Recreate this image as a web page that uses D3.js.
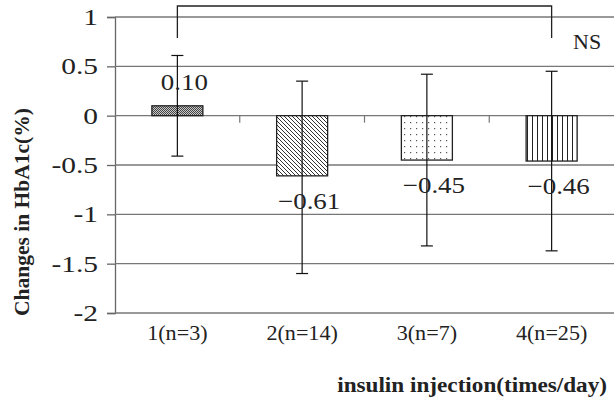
<!DOCTYPE html>
<html><head><meta charset="utf-8">
<script src="https://cdn.jsdelivr.net/npm/d3@7"></script>
<style>body{margin:0;background:#fff}svg{display:block}</style>
</head><body>
<svg id="c" width="614" height="410"></svg>
<script>
const categories = ["1(n=3)", "2(n=14)", "3(n=7)", "4(n=25)"];
const means = [0.10, -0.61, -0.45, -0.46];
const errUpper = [0.61, 0.35, 0.42, 0.45];
const errLower = [-0.41, -1.60, -1.32, -1.37];
const labels = ["0.10", "\u22120.61", "\u22120.45", "\u22120.46"];
const yTicks = [1, 0.5, 0, -0.5, -1, -1.5, -2];
const yTickLabels = ["1", "0.5", "0", "-0.5", "-1", "-1.5", "-2"];
const patterns = ["checker", "diag", "dots", "vert"];

const svg = d3.select("#c");
const serif = "'Liberation Serif','Times New Roman',serif";
const x = d3.scaleBand().domain(categories).range([115, 614]).padding(0);
const y = d3.scaleLinear().domain([-2, 1]).range([313, 17]);

function stext(parent, px, py, str, size, sx, anchor, bold, rot) {
  const g = parent.append("g").attr("transform", `translate(${px},${py})` + (rot ? ` rotate(${rot})` : "") + ` scale(${sx},1)`);
  g.append("text").attr("text-anchor", anchor).attr("font-family", serif)
    .attr("font-size", size).attr("font-weight", bold ? "bold" : "normal").attr("fill", "#222").text(str);
  return g;
}

// patterns
const defs = svg.append("defs");
let p = defs.append("pattern").attr("id","checker").attr("patternUnits","userSpaceOnUse").attr("width",2).attr("height",2);
p.append("rect").attr("width",2).attr("height",2).attr("fill","#c8c8c8");
p.append("rect").attr("width",1).attr("height",1).attr("fill","#444");
p.append("rect").attr("x",1).attr("y",1).attr("width",1).attr("height",1).attr("fill","#444");
p = defs.append("pattern").attr("id","diag").attr("patternUnits","userSpaceOnUse").attr("width",4).attr("height",4);
p.append("rect").attr("width",4).attr("height",4).attr("fill","#fff");
p.append("path").attr("d","M-1,-1 L5,5 M-1,3 L1,5 M3,-1 L5,1").attr("stroke","#333").attr("stroke-width",1);
p = defs.append("pattern").attr("id","dots").attr("patternUnits","userSpaceOnUse").attr("width",6).attr("height",6);
p.append("rect").attr("width",6).attr("height",6).attr("fill","#fff");
p.append("rect").attr("x",2).attr("y",2).attr("width",1.2).attr("height",1.2).attr("fill","#555");
p = defs.append("pattern").attr("id","vert").attr("patternUnits","userSpaceOnUse").attr("width",5).attr("height",5);
p.append("rect").attr("width",5).attr("height",5).attr("fill","#fff");
p.append("line").attr("x1",2.5).attr("x2",2.5).attr("y1",0).attr("y2",5).attr("stroke","#222").attr("stroke-width",1);

// y axis (line + ticks), labels stretched
const yAxis = d3.axisLeft(y).tickValues(yTicks).tickSize(8).tickFormat("");
const ga = svg.append("g").attr("transform","translate(115,0)").call(yAxis);
ga.select(".domain").attr("stroke","#666").attr("stroke-width",1.3);
ga.selectAll(".tick line").attr("stroke","#666").attr("stroke-width",1.3);
const gl = svg.append("g");
yTicks.forEach((d,i)=> stext(gl, 98, y(d)+8, yTickLabels[i], 23, 1.28, "end", false));

// gridlines
svg.append("g").selectAll("line").data(yTicks).join("line")
  .attr("x1",115).attr("x2",614).attr("y1",d=>y(d)).attr("y2",d=>y(d))
  .attr("stroke","#777").attr("stroke-width",1.3);

// category ticks on zero line
svg.append("g").selectAll("line").data(categories.slice(1)).join("line")
  .attr("x1",d=>x(d)).attr("x2",d=>x(d)).attr("y1",y(0)).attr("y2",y(0)+7)
  .attr("stroke","#777").attr("stroke-width",1.2);

// category labels
const gc = svg.append("g");
categories.forEach(c => stext(gc, x(c)+x.bandwidth()/2, 340, c, 20.5, 1.08, "middle", false));

// bars
const bw = 51;
svg.append("g").selectAll("rect").data(means).join("rect")
  .attr("x",(d,i)=>x(categories[i])+x.bandwidth()/2-bw/2)
  .attr("width",bw)
  .attr("y",d=>y(Math.max(0,d)))
  .attr("height",d=>Math.abs(y(d)-y(0)))
  .attr("fill",(d,i)=>`url(#${patterns[i]})`)
  .attr("stroke","#222").attr("stroke-width",1.3);

// error bars
const eb = svg.append("g").attr("stroke","#111").attr("stroke-width",1.2);
means.forEach((d,i)=>{
  const cx = x(categories[i])+x.bandwidth()/2;
  eb.append("line").attr("x1",cx).attr("x2",cx).attr("y1",y(errUpper[i])).attr("y2",y(errLower[i]));
  eb.append("line").attr("x1",cx-6).attr("x2",cx+6).attr("y1",y(errUpper[i])).attr("y2",y(errUpper[i]));
  eb.append("line").attr("x1",cx-6).attr("x2",cx+6).attr("y1",y(errLower[i])).attr("y2",y(errLower[i]));
});

// value labels
const gv = svg.append("g");
means.forEach((d,i)=> stext(gv, x(categories[i])+x.bandwidth()/2+7, d>=0 ? y(d)-16 : y(d)+33, labels[i], 23, 1.17, "middle", false));

// significance bracket
const c1 = x(categories[0])+x.bandwidth()/2, c4 = x(categories[3])+x.bandwidth()/2;
svg.append("path").attr("d",`M${c1},38 V6 H${c4} V38`).attr("fill","none").attr("stroke","#222").attr("stroke-width",1.3);
stext(svg, 573, 49, "NS", 22, 1.0, "start", false);

// axis titles
stext(svg, 607, 392, "insulin injection(times/day)", 20, 1.16, "end", true);
stext(svg, 29, 212, "Changes in HbA1c(%)", 21.5, 1.0, "middle", true, -90);
</script>
</body></html>
